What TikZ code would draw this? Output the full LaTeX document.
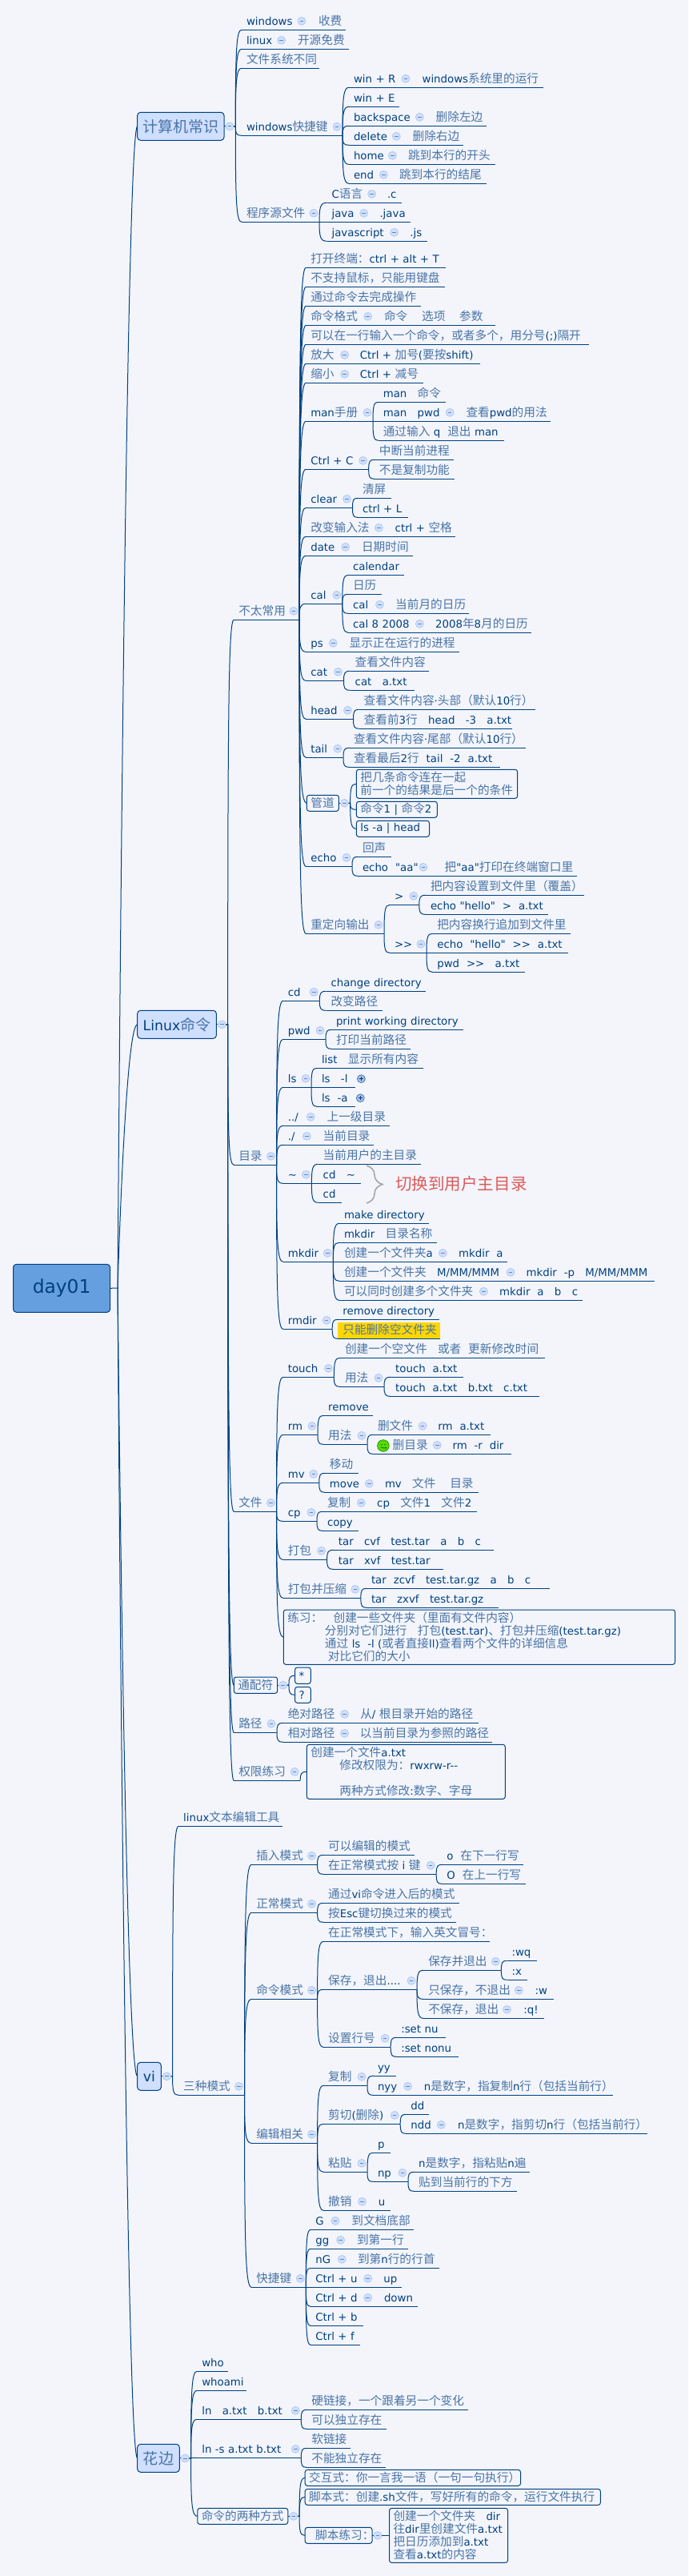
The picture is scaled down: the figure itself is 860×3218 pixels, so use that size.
\documentclass[tikz,border=0pt]{standalone}
\usepackage{fontspec}
\usetikzlibrary{calc,decorations.pathreplacing}
\setmainfont[Ligatures=TeXOff]{DejaVu Sans}
\newfontfamily\cjk[Scale=1.1]{Noto Sans CJK SC}
\definecolor{lt}{HTML}{004080}
\definecolor{zhblue}{HTML}{4A74A6}
\definecolor{zhred}{HTML}{DC5A5A}
\definecolor{bgcol}{HTML}{F3F5FB}
\definecolor{boxfill}{HTML}{CFDFFF}
\definecolor{rootfill}{HTML}{669FDF}
\definecolor{hl}{HTML}{FFD700}
\colorlet{zh}{zhblue}
% Chinese characters switch font by themselves
\XeTeXinterchartokenstate=1
\makeatletter
\count@="4E00 \loop\ifnum\count@<"A000 \XeTeXcharclass\count@=7 \advance\count@ 1 \repeat
\count@="3000 \loop\ifnum\count@<"3040 \XeTeXcharclass\count@=7 \advance\count@ 1 \repeat
\count@="FF00 \loop\ifnum\count@<"FFF0 \XeTeXcharclass\count@=7 \advance\count@ 1 \repeat
\makeatother
\XeTeXinterchartoks 0 7={\cjk\color{zh}\relax}
\XeTeXinterchartoks 4095 7={\cjk\color{zh}\relax}
\XeTeXinterchartoks 7 0={\rmfamily\color{lt}\relax}
\XeTeXinterchartoks 7 4095={\rmfamily\color{lt}\relax}
\tikzset{
	rule/.style={draw=lt, line width=0.75pt},
	topic/.style={anchor=south west, inner xsep=4.5pt, inner ysep=1.5pt, outer sep=0pt,
		text width={(#1-12)*0.75pt}, text height=9pt, text depth=3pt, text=lt,
		font=\fontsize{10}{12}\selectfont,
		execute at begin node=\hbox\bgroup, execute at end node=\egroup,
		append after command={(\tikzlastnode.south west) edge[rule] (\tikzlastnode.south east)}},
	tbox/.style 2 args={anchor=north west, draw=lt, line width=0.75pt, rounded corners=2.2pt,
		inner xsep=3.75pt, inner ysep=0pt, outer sep=0pt, text=lt, align=left,
		minimum width={#1*0.75pt}, minimum height={#2*0.75pt}, text width={(#1-10)*0.75pt},
		font=\fontsize{10}{12}\selectfont},
	bigbox/.style 2 args={anchor=north west, draw=lt, line width=0.75pt, rounded corners=3pt,
		inner sep=0pt, outer sep=0pt, fill=boxfill, text=lt,
		minimum width={#1*0.75pt}, minimum height={#2*0.75pt},
		font=\fontsize{13}{15}\selectfont},
	foldmark/.style={circle, draw=boxfill!80!lt, fill=boxfill, line width=0.4pt, minimum size=7.5pt, inner sep=0pt,
		path picture={\draw[lt!55!boxfill, line width=0.5pt]
			([xshift=-1.7pt]path picture bounding box.center) -- ([xshift=1.7pt]path picture bounding box.center);}},
	foldplus/.style={circle, draw=lt!70!boxfill, fill=boxfill!80!lt, line width=0.5pt, minimum size=7.5pt, inner sep=0pt,
		path picture={\draw[lt, line width=0.5pt]
			([xshift=-1.9pt]path picture bounding box.center) -- ([xshift=1.9pt]path picture bounding box.center)
			([yshift=-1.9pt]path picture bounding box.center) -- ([yshift=1.9pt]path picture bounding box.center);}},
	fold/.style={append after command={node[foldmark] (\tikzlastnode-m) at ([shift={(-7,-11)}]\tikzlastnode.south east) {}}},
	foldb/.style={append after command={node[foldmark] (\tikzlastnode-m) at ([shift={(7,0)}]\tikzlastnode.east) {}}},
	conn/.style={rule, to path={let \p1=(\tikztostart), \p2=(\tikztotarget) in
		.. controls (\x1,{\y1+0.8*(\y2-\y1)}) and ({\x1+0.15*(\x2-\x1)},\y2) .. (\tikztotarget)}},
	rootconn/.style={rule, to path={let \p1=(\tikztostart), \p2=(\tikztotarget) in
		.. controls ({\x1+0.15*(\x2-\x1)},{\y1+0.35*(\y2-\y1)}) and ({\x1+0.5*(\x2-\x1)},\y2) .. (\tikztotarget)}},
}
\begin{document}
\begin{tikzpicture}[x=0.75pt,y=-0.75pt]
	\useasboundingbox (0,0) rectangle (860,3218);
	\fill[bgcol] (0,0) rectangle (860,3218);

	% root and main branches
	\node[bigbox={121.2}{60}, fill=rootfill, font=\fontsize{17.5}{20}\selectfont] (root) at (16.5,1579.3) {day01};
	\coordinate (rootend) at (147,1609);
	\node[bigbox={108.3}{35},foldb] (cs) at (171.7,140.3) {计算机常识};
	\node[bigbox={98.7}{35},foldb] (lx) at (171.7,1262.3) {Linux命令};
	\node[bigbox={29.6}{35},foldb] (vi) at (171.7,2576.3) {vi};
	\node[bigbox={52.6}{35},foldb] (hb) at (171.7,3053.3) {花边};

	% 计算机常识
	\node[topic=82,fold] (win) at (302,37.3) {windows};
	\node[topic=40] (win-v) at (392,37.3) {收费};
	\node[topic=56.6,fold] (lin) at (302,61.3) {linux};
	\node[topic=69.5] (lin-v) at (366,61.3) {开源免费};
	\node[topic=97] (fs) at (302,85.3) {文件系统不同};
	\node[topic=126,fold] (key) at (302,169.3) {windows快捷键};
	\node[topic=97,fold] (src) at (302,277.3) {程序源文件};
	\node[topic=78,fold] (kr) at (436,109.3) {win + R};
	\node[topic=157] (kr-v) at (521.6,109.3) {windows系统里的运行};
	\node[topic=62.6] (ke) at (436,133.3) {win + E};
	\node[topic=95.4,fold] (kb) at (436,157.3) {backspace};
	\node[topic=69.3] (kb-v) at (538.7,157.3) {删除左边};
	\node[topic=66.3,fold] (kd) at (436,181.3) {delete};
	\node[topic=69.4] (kd-v) at (509.6,181.3) {删除右边};
	\node[topic=61.4,fold] (kh) at (436,205.3) {home};
	\node[topic=114.7] (kh-v) at (504,205.3) {跳到本行的开头};
	\node[topic=50.4,fold] (kn) at (436,229.3) {end};
	\node[topic=114.7] (kn-v) at (493,229.3) {跳到本行的结尾};
	\node[topic=63,fold] (sc) at (408.6,253.3) {C语言};
	\node[topic=24.4] (sc-v) at (478,253.3) {.c};
	\node[topic=53.1,fold] (sj) at (408.6,277.3) {java};
	\node[topic=44.9] (sj-v) at (468.5,277.3) {.java};
	\node[topic=91,fold] (sn) at (408.6,301.3) {javascript};
	\node[topic=27.7] (sn-v) at (506.3,301.3) {.js};

	% 不太常用
	\node[topic=81.7,fold] (rare) at (292.3,774.3) {不太常用};
	\node[topic=174.4] (ta) at (382.3,334.3) {打开终端：ctrl + alt + T};
	\node[topic=173.3] (tb) at (382.3,358.3) {不支持鼠标，只能用键盘};
	\node[topic=143.2] (tc) at (382.3,382.3) {通过命令去完成操作};
	\node[topic=84.4,fold] (td) at (382.3,406.3) {命令格式};
	\node[topic=145.3] (td-v) at (474,406.3) {命令~~~~选项~~~~参数};
	\node[topic=353.2] (te) at (382.3,430.3) {可以在一行输入一个命令，或者多个，用分号(;)隔开};
	\node[topic=55.3,fold] (tf) at (382.3,454.3) {放大};
	\node[topic=155.7] (tf-v) at (443.8,454.3) {Ctrl + 加号(要按shift)};
	\node[topic=55.3,fold] (tg) at (382.3,478.3) {缩小};
	\node[topic=85] (tg-v) at (443.8,478.3) {Ctrl + 减号};
	\node[topic=83.7,fold] (man) at (382.3,526.3) {man手册};
	\node[topic=83.9] (m1) at (472.8,502.3) {man~~~命令};
	\node[topic=96.4,fold] (m2) at (472.8,526.3) {man~~~pwd};
	\node[topic=111.9] (m2-v) at (576.5,526.3) {查看pwd的用法};
	\node[topic=156.9] (m3) at (472.8,550.3) {通过输入 q~~退出 man};
	\node[topic=78.4,fold] (ctc) at (382.3,586.3) {Ctrl + C};
	\node[topic=98.7] (c1) at (467.9,574.3) {中断当前进程};
	\node[topic=99.8] (c2) at (467.9,598.3) {不是复制功能};
	\node[topic=58.2,fold] (clr) at (382.3,634.3) {clear};
	\node[topic=42.3] (cl1) at (447,622.3) {清屏};
	\node[topic=62.6] (cl2) at (447,646.3) {ctrl + L};
	\node[topic=98.1,fold] (ime) at (382.3,670.3) {改变输入法};
	\node[topic=81.7] (ime-v) at (487.7,670.3) {ctrl + 空格};
	\node[topic=56.4,fold] (dat) at (382.3,694.3) {date};
	\node[topic=69.6] (dat-v) at (446,694.3) {日期时间};
	\node[topic=45.5,fold] (cal) at (382.3,754.3) {cal};
	\node[topic=69.6] (ca1) at (435,718.3) {calendar};
	\node[topic=41.7] (ca2) at (435,742.3) {日历};
	\node[topic=46.5,fold] (ca3) at (435,766.3) {cal};
	\node[topic=98.2] (ca3-v) at (488.2,766.3) {当前月的日历};
	\node[topic=96.4,fold] (ca4) at (435,790.3) {cal 8 2008};
	\node[topic=126.2] (ca4-v) at (538.1,790.3) {2008年8月的日历};
	\node[topic=41,fold] (ps) at (382.3,814.3) {ps};
	\node[topic=143.2] (ps-v) at (430.6,814.3) {显示正在运行的进程};
	\node[topic=47.2,fold] (cat) at (382.3,850.3) {cat};
	\node[topic=98.7] (ct1) at (437.7,838.3) {查看文件内容};
	\node[topic=80.6] (ct2) at (437.7,862.3) {cat~~~a.txt};
	\node[topic=59.2,fold] (hd) at (382.3,898.3) {head};
	\node[topic=219.9] (h1) at (448.7,886.3) {查看文件内容·头部（默认10行）};
	\node[topic=190.9] (h2) at (448.7,910.3) {查看前3行~~~head~~~-3~~~a.txt};
	\node[topic=46.7,fold] (tl) at (382.3,946.3) {tail};
	\node[topic=220.6] (t1) at (436,934.3) {查看文件内容·尾部（默认10行）};
	\node[topic=188.7] (t2) at (436,958.3) {查看最后2行~~tail~~-2~~a.txt};
	\node[tbox={40}{20},foldb] (pip) at (383.4,993.3) {管道};
	\node[tbox={201.3}{36}] (p1) at (445.4,961.3) {把几条命令连在一起\\前一个的结果是后一个的条件};
	\node[tbox={100.9}{20}] (p2) at (445.4,1001.3) {命令1 | 命令2};
	\node[tbox={91.1}{20}] (p3) at (445.4,1025.3) {ls -a | head};
	\node[topic=57.7,fold] (ech) at (382.3,1082.3) {echo};
	\node[topic=41.7] (e1) at (447,1070.3) {回声};
	\node[topic=88.9,fold] (e2) at (447,1094.3) {echo~~"aa"};
	\node[topic=171.7] (e2-v) at (549.6,1094.3) {把"aa"打印在终端窗口里};
	\node[topic=97.7,fold] (red) at (382.3,1166.3) {重定向输出};
	\node[topic=36.8,fold] (gt) at (487,1130.3) {>};
	\node[topic=46,fold] (gg) at (487,1190.3) {>>};
	\node[topic=197.5] (g1) at (532,1118.3) {把内容设置到文件里（覆盖）};
	\node[topic=152.5] (g2) at (532,1142.3) {echo "hello"~~>~~a.txt};
	\node[topic=172.7] (a1) at (540.3,1166.3) {把内容换行追加到文件里};
	\node[topic=169.5] (a2) at (540.3,1190.3) {echo~~"hello"~~>>~~a.txt};
	\node[topic=115.2] (a3) at (540.3,1214.3) {pwd~~>>~~~a.txt};

	% 目录
	\node[topic=53.2,fold] (mul) at (292.3,1455.3) {目录};
	\node[topic=45.5,fold] (cd) at (353.8,1250.3) {cd};
	\node[topic=124] (cd1) at (407.5,1238.3) {change directory};
	\node[topic=70.3] (cd2) at (407.5,1262.3) {改变路径};
	\node[topic=53.2,fold] (pw) at (353.8,1298.3) {pwd};
	\node[topic=165.3] (pw1) at (414,1286.3) {print working directory};
	\node[topic=99.4] (pw2) at (414,1310.3) {打印当前路径};
	\node[topic=35.2,fold] (ls) at (353.8,1358.3) {ls};
	\node[topic=132.8] (ls1) at (396,1334.3) {list~~~显示所有内容};
	\node[topic=48.3] (ls2) at (396,1358.3) {ls~~~-l};
	\node[foldplus] (ls2-m) at (451.4,1347.7) {};
	\node[topic=48.3] (ls3) at (396,1382.3) {ls~~-a};
	\node[foldplus] (ls3-m) at (450.3,1371.7) {};
	\node[topic=41.5,fold] (up) at (353.8,1406.3) {../};
	\node[topic=83.9] (up-v) at (402.6,1406.3) {上一级目录};
	\node[topic=36.6,fold] (dot) at (353.8,1430.3) {./};
	\node[topic=69.6] (dot-v) at (397.7,1430.3) {当前目录};
	\node[topic=35.6,fold] (hm) at (353.8,1478.3) {\textasciitilde};
	\node[topic=127.8] (hm1) at (397.7,1454.3) {当前用户的主目录};
	\node[topic=53.7] (hm2) at (397.7,1478.3) {cd~~~\textasciitilde};
	\node[topic=29] (hm3) at (397.7,1502.3) {cd};
	\coordinate (bracetop) at (458,1456);
	\coordinate (bracebot) at (458,1503);
	\draw[gray!70, line width=1.2pt, decorate, decoration={brace, amplitude=15pt}] (bracetop) -- (bracebot);
	\colorlet{zh}{zhred}
	\node[anchor=west, inner sep=0pt, font=\fontsize{14}{16}\selectfont] (hmnote) at (494,1479) {切换到用户主目录};
	\colorlet{zh}{zhblue}
	\node[topic=62.5,fold] (mk) at (353.8,1576.3) {mkdir};
	\node[topic=112] (md1) at (424,1528.3) {make directory};
	\node[topic=122.3] (md2) at (424,1552.3) {mkdir~~~目录名称};
	\node[topic=136.4,fold] (md3) at (424,1576.3) {创建一个文件夹a};
	\node[topic=66.3] (md3-v) at (567.2,1576.3) {mkdir~~a};
	\node[topic=221,fold] (md4) at (424,1600.3) {创建一个文件夹~~~M/MM/MMM};
	\node[topic=166.8] (md4-v) at (651.6,1600.3) {mkdir~~-p~~~M/MM/MMM};
	\node[topic=187.4,fold] (md5) at (424,1624.3) {可以同时创建多个文件夹};
	\node[topic=110.2] (md5-v) at (618.2,1624.3) {mkdir~~a~~~b~~~c};
	\node[topic=61.4,fold] (rd) at (353.8,1660.3) {rmdir};
	\node[topic=126.1] (rd1) at (422.4,1648.3) {remove directory};
	\node[topic=127.6, fill=hl] (rd2) at (422.4,1672.3) {只能删除空文件夹};

	% 文件
	\node[topic=53.2,fold] (file) at (292.3,1888.3) {文件};
	\node[topic=63.6,fold] (to) at (353.8,1720.3) {touch};
	\node[topic=255.7] (to1) at (425,1696.3) {创建一个空文件~~~或者~~更新修改时间};
	\node[topic=55,fold] (to2) at (425,1732.3) {用法};
	\node[topic=91.1] (ta1) at (488.2,1720.3) {touch~~a.txt};
	\node[topic=185.4] (ta2) at (488.2,1744.3) {touch~~a.txt~~~b.txt~~~c.txt};
	\node[topic=43.2,fold] (rm) at (353.8,1792.3) {rm};
	\node[topic=61.5] (rm1) at (404.2,1768.3) {remove};
	\node[topic=54.8,fold] (rm2) at (404.2,1804.3) {用法};
	\node[topic=69.2,fold] (r1) at (466,1792.3) {删文件};
	\node[topic=71.3] (r1-v) at (541.4,1792.3) {rm~~a.txt};
	\node[topic=87.3,fold] (r2) at (466,1816.3) {\hspace*{14pt}删目录};
	\node[topic=79] (r2-v) at (559.5,1816.3) {rm~~-r~~dir};
	\node[circle, draw=green!45!black, fill=green!60!yellow!85!black, line width=0.4pt, minimum size=11pt, inner sep=0pt,
		path picture={\draw[green!30!black, line width=0.5pt]
			([shift={(-2pt,1pt)}]path picture bounding box.center) -- +(1pt,0)
			([shift={(1pt,1pt)}]path picture bounding box.center) -- +(1pt,0)
			([shift={(-2pt,-1.5pt)}]path picture bounding box.center) .. controls +(1pt,-1pt) and +(3pt,-1pt) .. +(4pt,0);}] (smile) at (478.9,1806) {};
	\node[topic=45,fold] (mv) at (353.8,1852.3) {mv};
	\node[topic=41.7] (mv1) at (405.9,1840.3) {移动};
	\node[topic=62.4,fold] (mv2) at (405.9,1864.3) {move};
	\node[topic=123.4] (mv2-v) at (475,1864.3) {mv~~~文件~~~~目录};
	\node[topic=42.2,fold] (cp) at (353.8,1900.3) {cp};
	\node[topic=55.4,fold] (cp1) at (403,1888.3) {复制};
	\node[topic=130.5] (cp1-v) at (465.2,1888.3) {cp~~~文件1~~~文件2};
	\node[topic=44.6] (cp2) at (403,1912.3) {copy};
	\node[topic=54.8,fold] (pk) at (353.8,1948.3) {打包};
	\node[topic=199.6] (pk1) at (416.9,1936.3) {tar~~~cvf~~~test.tar~~~a~~~b~~~c};
	\node[topic=136.6] (pk2) at (416.9,1960.3) {tar~~~xvf~~~test.tar};
	\node[topic=97.1,fold] (pz) at (353.8,1996.3) {打包并压缩};
	\node[topic=228.8] (pz1) at (458,1984.3) {tar~~zcvf~~~test.tar.gz~~~a~~~b~~~c};
	\node[topic=164.6] (pz2) at (458,2008.3) {tar~~~zxvf~~~test.tar.gz};
	\node[tbox={489.3}{68.3}] (ex) at (354.3,2011) {练习：\hspace*{10pt}创建一些文件夹（里面有文件内容）\\
		\hspace*{35pt}分别对它们进行~~~打包(test.tar)、打包并压缩(test.tar.gz)\\
		\hspace*{35pt}通过 ls~~-l (或者直接ll)查看两个文件的详细信息\\
		\hspace*{38pt}对比它们的大小};

	% 通配符, 路径, 权限练习
	\node[tbox={54.4}{20.3},foldb] (wild) at (292.3,2095) {通配符};
	\node[tbox={19.7}{20.3}] (star) at (368.6,2083) {*};
	\node[tbox={19.7}{20}] (qmk) at (368.6,2107.3) {?};
	\node[topic=53.7,fold] (path) at (292.3,2164.3) {路径};
	\node[topic=83.8,fold] (abs) at (353.8,2152.3) {绝对路径};
	\node[topic=153.7] (abs-v) at (444.3,2152.3) {从/ 根目录开始的路径};
	\node[topic=83.8,fold] (rel) at (353.8,2176.3) {相对路径};
	\node[topic=171.6] (rel-v) at (443.8,2176.3) {以当前目录为参照的路径};
	\node[topic=82.9,fold] (perm) at (292.3,2224.3) {权限练习};
	\node[tbox={247.9}{68}] (pm1) at (383.4,2179.3) {创建一个文件a.txt\\
		\hspace*{27pt}修改权限为：rwxrw-r--\\[12pt]
		\hspace*{27pt}两种方式修改:数字、字母};

	% vi
	\node[topic=130] (tool) at (223.2,2281.3) {linux文本编辑工具};
	\node[topic=82.3,fold] (mode) at (223.2,2617.3) {三种模式};
	\node[topic=82.3,fold] (ins) at (314.3,2329.3) {插入模式};
	\node[topic=114.1] (i1) at (404.2,2317.3) {可以编辑的模式};
	\node[topic=141,fold] (i2) at (404.2,2341.3) {在正常模式按 i 键};
	\node[topic=102] (i3) at (552.4,2329.3) {o~~在下一行写};
	\node[topic=104.2] (i4) at (552.4,2353.3) {O~~在上一行写};
	\node[topic=82.3,fold] (nor) at (314.3,2389.3) {正常模式};
	\node[topic=170.1] (n1) at (404.2,2377.3) {通过vi命令进入后的模式};
	\node[topic=166.2] (n2) at (404.2,2401.3) {按Esc键切换过来的模式};
	\node[topic=82.3,fold] (cmd) at (314.3,2497.3) {命令模式};
	\node[topic=207.4] (cm1) at (404.2,2425.3) {在正常模式下，输入英文冒号：};
	\node[topic=116.8,fold] (cm2) at (404.2,2485.3) {保存，退出....};
	\node[topic=84,fold] (cm3) at (404.2,2557.3) {设置行号};
	\node[topic=97.1,fold] (s1) at (529.3,2461.3) {保存并退出};
	\node[topic=37.9] (wq) at (633.5,2449.3) {:wq};
	\node[topic=25.8] (xx) at (633.5,2473.3) {:x};
	\node[topic=126,fold] (s2) at (529.3,2497.3) {只保存，不退出};
	\node[topic=29.1] (s2-v) at (662.6,2497.3) {:w};
	\node[topic=111.2,fold] (s3) at (529.3,2521.3) {不保存，退出};
	\node[topic=31.2] (s3-v) at (648.4,2521.3) {:q!};
	\node[topic=61.4] (nu) at (495.3,2545.3) {:set nu};
	\node[topic=77.3] (nonu) at (495.3,2569.3) {:set nonu};
	\node[topic=82.3,fold] (edt) at (314.3,2677.3) {编辑相关};
	\node[topic=54.8,fold] (d1) at (404.2,2605.3) {复制};
	\node[topic=28.8] (yy) at (466,2593.3) {yy};
	\node[topic=50.6,fold] (nyy) at (466,2617.3) {nyy};
	\node[topic=242.4] (nyy-v) at (523.9,2617.3) {n是数字，指复制n行（包括当前行）};
	\node[topic=96,fold] (d2) at (404.2,2653.3) {剪切(删除)};
	\node[topic=29] (dd) at (507.4,2641.3) {dd};
	\node[topic=50.9,fold] (ndd) at (507.4,2665.3) {ndd};
	\node[topic=242.4] (ndd-v) at (566.1,2665.3) {n是数字，指剪切n行（包括当前行）};
	\node[topic=54.8,fold] (d3) at (404.2,2713.3) {粘贴};
	\node[topic=21.6] (pp) at (466,2689.3) {p};
	\node[topic=44,fold] (np) at (466,2725.3) {np};
	\node[topic=144.3] (np1) at (517.2,2713.3) {n是数字，指粘贴n遍};
	\node[topic=128.4] (np2) at (517.2,2737.3) {贴到当前行的下方};
	\node[topic=55.3,fold] (d4) at (404.2,2761.3) {撤销};
	\node[topic=20.8] (d4-v) at (466.8,2761.3) {u};
	\node[topic=68,fold] (fast) at (314.3,2857.3) {快捷键};
	\node[topic=37.7,fold] (fa) at (388.3,2785.3) {G};
	\node[topic=83.8] (fa-v) at (433.4,2785.3) {到文档底部};
	\node[topic=44.3,fold] (fb) at (388.3,2809.3) {gg};
	\node[topic=69.6] (fb-v) at (440,2809.3) {到第一行};
	\node[topic=46,fold] (fc) at (388.3,2833.3) {nG};
	\node[topic=107.5] (fc-v) at (441,2833.3) {到第n行的行首};
	\node[topic=78.4,fold] (fd) at (388.3,2857.3) {Ctrl + u};
	\node[topic=29] (fd-v) at (473.4,2857.3) {up};
	\node[topic=78.4,fold] (fe) at (388.3,2881.3) {Ctrl + d};
	\node[topic=47.6] (fe-v) at (474,2881.3) {down};
	\node[topic=65.3] (ff) at (388.3,2905.3) {Ctrl + b};
	\node[topic=62] (fg) at (388.3,2929.3) {Ctrl + f};

	% 花边
	\node[topic=38.4] (who) at (246.3,2962.3) {who};
	\node[topic=62] (whoami) at (246.3,2986.3) {whoami};
	\node[topic=130,fold] (ln) at (246.3,3022.3) {ln~~~a.txt~~~b.txt};
	\node[topic=201.9] (ln1) at (383.4,3010.3) {硬链接，一个跟着另一个变化};
	\node[topic=99.3] (ln2) at (383.4,3034.3) {可以独立存在};
	\node[topic=130,fold] (lns) at (246.3,3070.3) {ln -s a.txt b.txt};
	\node[topic=54.3] (ls4) at (383.4,3058.3) {软链接};
	\node[topic=98.2] (ls5) at (383.4,3082.3) {不能独立存在};
	\node[tbox={113}{20},foldb] (way) at (246.8,3133.3) {命令的两种方式};
	\node[tbox={269.3}{20}] (w1) at (381.2,3085.3) {交互式：你一言我一语（一句一句执行）};
	\node[tbox={369.2}{20}] (w2) at (381.2,3109.3) {脚本式：创建.sh文件，写好所有的命令，运行文件执行};
	\node[tbox={83.8}{20},foldb] (w3) at (381.2,3157.3) {\hspace*{6pt}脚本练习：};
	\node[tbox={148.1}{68}] (w4) at (486.5,3133.3) {创建一个文件夹~~~dir\\往dir里创建文件a.txt\\把日历添加到a.txt\\查看a.txt的内容};

	% connectors
	\draw[rule] (root.east) -- (rootend);
	\foreach \k in {cs,lx,vi,hb}
		\draw[rootconn] (rootend) to (\k.west);
	\foreach \p in {cs,lx,vi,hb,pip,wild,way,w3}
		\draw[rule] (\p.east) -- (\p-m.west);
	\foreach \p in {win,lin,kr,kb,kd,kh,kn,sc,sj,sn,td,tf,tg,m2,ime,dat,ca3,ca4,ps,e2,up,dot,md3,md4,md5,r1,r2,mv2,cp1,abs,rel,s2,s3,nyy,ndd,d4,fa,fb,fc,fd,fe}
		\draw[rule] (\p.south east) -- (\p-v.south west);
	\foreach \p/\kids in {cs/{win,lin,fs,key,src}, lx/{rare,mul,file,path,perm}, vi/{tool,mode}, hb/{who,whoami,ln,lns}}
		\foreach \k in \kids
			\draw[conn] (\p-m.east) -- ++(2,0) to (\k.south west);
	\foreach \p/\kids in {key/{kr,ke,kb,kd,kh,kn}, src/{sc,sj,sn}, rare/{ta,tb,tc,td,te,tf,tg,man,ctc,clr,ime,dat,cal,ps,cat,hd,tl,ech,red},
			man/{m1,m2,m3}, ctc/{c1,c2}, clr/{cl1,cl2}, cal/{ca1,ca2,ca3,ca4}, cat/{ct1,ct2}, hd/{h1,h2}, tl/{t1,t2}, ech/{e1,e2}, red/{gt,gg},
			gt/{g1,g2}, gg/{a1,a2,a3}, mul/{cd,pw,ls,up,dot,hm,mk,rd}, cd/{cd1,cd2}, pw/{pw1,pw2}, ls/{ls1,ls2,ls3}, hm/{hm1,hm2,hm3},
			mk/{md1,md2,md3,md4,md5}, rd/{rd1,rd2}, file/{to,rm,mv,cp,pk,pz}, to/{to1,to2}, to2/{ta1,ta2}, rm/{rm1,rm2}, rm2/{r1,r2},
			mv/{mv1,mv2}, cp/{cp1,cp2}, pk/{pk1,pk2}, pz/{pz1,pz2}, path/{abs,rel}, mode/{ins,nor,cmd,edt,fast}, ins/{i1,i2}, i2/{i3,i4},
			nor/{n1,n2}, cmd/{cm1,cm2,cm3}, cm2/{s1,s2,s3}, s1/{wq,xx}, cm3/{nu,nonu}, edt/{d1,d2,d3,d4}, d1/{yy,nyy}, d2/{dd,ndd},
			d3/{pp,np}, np/{np1,np2}, fast/{fa,fb,fc,fd,fe,ff,fg}, ln/{ln1,ln2}, lns/{ls4,ls5}}
		\foreach \k in \kids
			\draw[conn] (\p.south east) to (\k.south west);
	\foreach \p/\k in {rare/pip, file/ex, perm/pm1}
		\draw[conn] (\p.south east) to (\k.west);
	\foreach \p/\kids in {lx/{wild}, pip/{p1,p2,p3}, wild/{star,qmk}, hb/{way}, way/{w1,w2,w3}, w3/{w4}}
		\foreach \k in \kids
			\draw[conn] (\p-m.east) -- ++(2,0) to (\k.west);
\end{tikzpicture}
\end{document}
